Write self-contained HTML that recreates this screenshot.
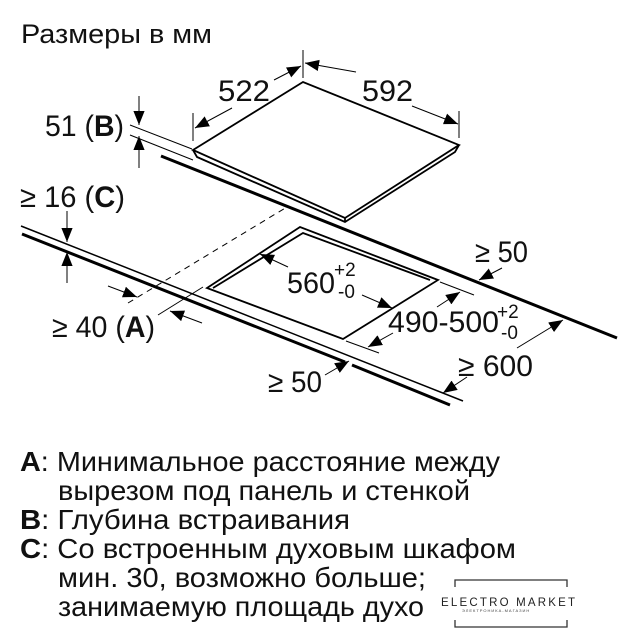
<!DOCTYPE html>
<html><head><meta charset="utf-8"><style>
body{margin:0;background:#fff;width:638px;height:640px;overflow:hidden;font-family:"Liberation Sans",Arial,sans-serif;}
svg{position:absolute;left:0;top:0}
</style></head><body>
<svg width="638" height="640" viewBox="0 0 638 640" xmlns="http://www.w3.org/2000/svg">
<defs>
<marker id="a" viewBox="0 0 10 10" refX="10" refY="5" markerWidth="14" markerHeight="14" markerUnits="userSpaceOnUse" orient="auto"><path d="M0,1 L10,5 L0,9 z" fill="#000"/></marker>
</defs>
<g font-family="Liberation Sans, Arial, sans-serif" fill="#111">
<text x="21" y="43" font-size="27" textLength="191" lengthAdjust="spacingAndGlyphs">Размеры в мм</text>
<text x="218" y="101" font-size="30" textLength="52" lengthAdjust="spacingAndGlyphs">522</text>
<text x="362" y="101" font-size="30" textLength="51" lengthAdjust="spacingAndGlyphs">592</text>
<text x="45" y="136" font-size="30" textLength="79" lengthAdjust="spacingAndGlyphs">51 (<tspan font-weight="bold">B</tspan>)</text>
<text x="20" y="207" font-size="30" textLength="105" lengthAdjust="spacingAndGlyphs">≥ 16 (<tspan font-weight="bold">C</tspan>)</text>
<text x="52" y="337" font-size="30" textLength="103" lengthAdjust="spacingAndGlyphs">≥ 40 (<tspan font-weight="bold">A</tspan>)</text>
<text x="268" y="392" font-size="30" textLength="54" lengthAdjust="spacingAndGlyphs">≥ 50</text>
<text x="475" y="262" font-size="30" textLength="53" lengthAdjust="spacingAndGlyphs">≥ 50</text>
<text x="458" y="376" font-size="30" textLength="75" lengthAdjust="spacingAndGlyphs">≥ 600</text>
<text x="287" y="293" font-size="30" textLength="48" lengthAdjust="spacingAndGlyphs">560</text>
<text x="334" y="276" font-size="19">+2</text>
<text x="338" y="298" font-size="19">-0</text>
<text x="388" y="332" font-size="30" textLength="111" lengthAdjust="spacingAndGlyphs">490-500</text>
<text x="497" y="318" font-size="19">+2</text>
<text x="501" y="339" font-size="19">-0</text>
</g>
<g fill="none" stroke="#000" stroke-width="1.8" stroke-linejoin="miter">
<path d="M193,150 L303,82 L459,145 L345,218 Z"/>
<path d="M193,150 L197,157 L345,222 L455,152 L459,145"/>
<path d="M345,218 L345,222"/>
<path d="M161,156 L617,338" stroke-width="3"/>
<path d="M21,226 L463,401" stroke-width="1.5"/>
<path d="M22,234 L345,362 M352,365 L450,405" stroke-width="3"/>
<path d="M207,288 L300,227 L438,280 L343,339 Z"/>
<path d="M213,288 L303,233 L430,280"/>
</g>
<g fill="none" stroke="#000" stroke-width="1">
<path d="M128,303 L287,207" stroke-dasharray="6,5"/>
<path d="M158,315 L203,287"/>
<path d="M130,125 L192,149 M130,135 L193,160"/>
<path d="M193,113 L193,141 M303,50 L303,78 M459,111 L459,138"/>
<path d="M440,282 L474,295 M346,341 L379,353"/>
<path d="M232,108 L195,128" marker-end="url(#a)"/>
<path d="M274,80 L301,66" marker-end="url(#a)"/>
<path d="M356,72 L305,63" marker-end="url(#a)"/>
<path d="M412,106 L458,124" marker-end="url(#a)"/>
<path d="M139,96 L139,125" marker-end="url(#a)"/>
<path d="M139,168 L139,136" marker-end="url(#a)"/>
<path d="M67,211 L67,242" marker-end="url(#a)"/>
<path d="M67,283 L67,252" marker-end="url(#a)"/>
<path d="M108,286 L137,297" marker-end="url(#a)"/>
<path d="M202,323 L170,311" marker-end="url(#a)"/>
<path d="M288,267 L260,254" marker-end="url(#a)"/>
<path d="M362,295 L392,308" marker-end="url(#a)"/>
<path d="M437,307 L460,292" marker-end="url(#a)"/>
<path d="M393,333 L368,347" marker-end="url(#a)"/>
<path d="M502,268 L479,280" marker-end="url(#a)"/>
<path d="M517,348 L563,320" marker-end="url(#a)"/>
<path d="M467,377 L443,393" marker-end="url(#a)"/>
<path d="M325,375 L349,361" marker-end="url(#a)"/>
</g>
<g font-family="Liberation Sans, Arial, sans-serif" font-size="28" fill="#111">
<text x="20" y="471" textLength="480" lengthAdjust="spacingAndGlyphs"><tspan font-weight="bold">A</tspan>: Минимальное расстояние между</text>
<text x="58" y="500" textLength="412" lengthAdjust="spacingAndGlyphs">вырезом под панель и стенкой</text>
<text x="20" y="529" textLength="330" lengthAdjust="spacingAndGlyphs"><tspan font-weight="bold">B</tspan>: Глубина встраивания</text>
<text x="20" y="558" textLength="496" lengthAdjust="spacingAndGlyphs"><tspan font-weight="bold">C</tspan>: Со встроенным духовым шкафом</text>
<text x="58" y="587" textLength="368" lengthAdjust="spacingAndGlyphs">мин. 30, возможно больше;</text>
<text x="58" y="616" textLength="366" lengthAdjust="spacingAndGlyphs">занимаемую площадь духо</text>
</g>
<g fill="none" stroke="#333" stroke-width="1.3">
<path d="M455,587 L455,580 L567,580 L567,587"/>
<path d="M455,620 L455,627 L567,627 L567,620"/>
</g>
<text x="441" y="606" font-family="Liberation Sans, Arial, sans-serif" font-size="11.5" letter-spacing="2.2" fill="#222">ELECTRO MARKET</text>
<text x="462" y="612" font-family="Liberation Sans, Arial, sans-serif" font-size="4" letter-spacing="1" fill="#444">ЭЛЕКТРОНИКА-МАГАЗИН</text>
</svg>
</body></html>
